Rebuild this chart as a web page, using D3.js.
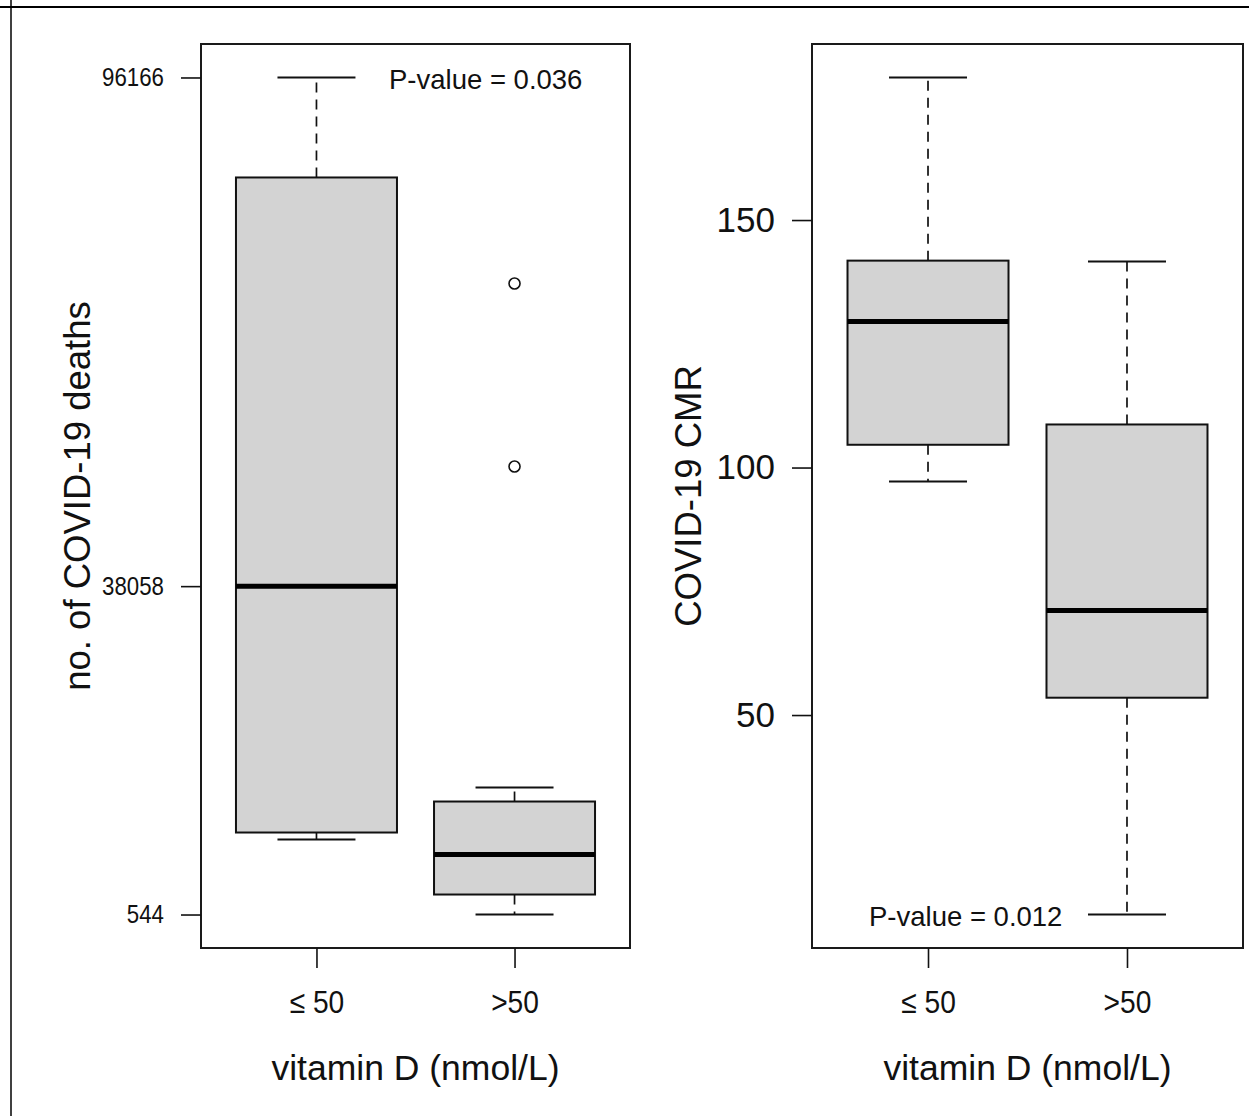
<!DOCTYPE html>
<html>
<head>
<meta charset="utf-8">
<script src="https://cdn.jsdelivr.net/npm/d3@7"></script>
<style>
  html, body { margin: 0; padding: 0; background: #fff; }
  svg { display: block; }
  text { font-family: "Liberation Sans", Arial, sans-serif; fill: #111; }
</style>
</head>
<body>
<svg id="chart" width="1249" height="1116"></svg>
<script>
// ---- data ----
const groups = ["\u2264 50", ">50"];

// Panel 1: number of COVID-19 deaths
const deathsLowerWhisker = [9112, 544];
const deathsQ1 = [9912, 2829];
const deathsMedian = [38058, 7399];
const deathsQ3 = [84743, 13453];
const deathsUpperWhisker = [96166, 15053];
const deathsOutliers = [[], [51726, 72633]];
const deathsTicks = [544, 38058, 96166];

// Panel 2: COVID-19 CMR
const cmrLowerWhisker = [97.2, 9.7];
const cmrQ1 = [104.6, 53.5];
const cmrMedian = [129.5, 71.1];
const cmrQ3 = [141.8, 108.7];
const cmrUpperWhisker = [178.8, 141.6];
const cmrOutliers = [[], []];
const cmrTicks = [50, 100, 150];

const svg = d3.select("#chart");

// page border lines (cropped figure cell)
svg.append("line").attr("x1", 0).attr("x2", 1249).attr("y1", 7).attr("y2", 7)
  .attr("stroke", "#000").attr("stroke-width", 2);
svg.append("line").attr("x1", 11).attr("x2", 11).attr("y1", 0).attr("y2", 1116)
  .attr("stroke", "#000").attr("stroke-width", 1.5);

function condense(sel, factor) {
  sel.each(function() {
    const len = this.getComputedTextLength();
    d3.select(this).attr("textLength", len * factor).attr("lengthAdjust", "spacingAndGlyphs");
  });
}

function drawPanel(cfg) {
  const g = svg.append("g");
  const { left, right, top, bottom } = cfg.frame;

  const allVals = cfg.lw.concat(cfg.uw, cfg.outliers.flat());
  const lo = d3.min(allVals), hi = d3.max(allVals);
  const pad = (hi - lo) * 0.04;
  const y = d3.scaleLinear().domain([lo - pad, hi + pad]).range([bottom, top]);
  const x = d3.scalePoint().domain(groups).range([left, right]).padding(0.583);

  const boxHalf = 80.5, capHalf = 39;

  groups.forEach((grp, i) => {
    const cx = x(grp);
    // whiskers (dashed)
    g.append("line").attr("x1", cx).attr("x2", cx)
      .attr("y1", y(cfg.q3[i])).attr("y2", y(cfg.uw[i]))
      .attr("stroke", "#111").attr("stroke-width", 1.7).attr("stroke-dasharray", "10,7");
    g.append("line").attr("x1", cx).attr("x2", cx)
      .attr("y1", y(cfg.q1[i])).attr("y2", y(cfg.lw[i]))
      .attr("stroke", "#111").attr("stroke-width", 1.7).attr("stroke-dasharray", "10,7");
    // caps
    [cfg.uw[i], cfg.lw[i]].forEach(v => {
      g.append("line").attr("x1", cx - capHalf).attr("x2", cx + capHalf)
        .attr("y1", y(v)).attr("y2", y(v))
        .attr("stroke", "#111").attr("stroke-width", 2);
    });
    // box
    g.append("rect").attr("x", cx - boxHalf).attr("width", boxHalf * 2)
      .attr("y", y(cfg.q3[i])).attr("height", y(cfg.q1[i]) - y(cfg.q3[i]))
      .attr("fill", "#d3d3d3").attr("stroke", "#111").attr("stroke-width", 2);
    // median
    g.append("line").attr("x1", cx - boxHalf).attr("x2", cx + boxHalf)
      .attr("y1", y(cfg.med[i])).attr("y2", y(cfg.med[i]))
      .attr("stroke", "#000").attr("stroke-width", 5);
    // outliers
    cfg.outliers[i].forEach(v => {
      g.append("circle").attr("cx", cx).attr("cy", y(v)).attr("r", 5.5)
        .attr("fill", "#fff").attr("stroke", "#111").attr("stroke-width", 1.6);
    });
  });

  // frame
  g.append("rect").attr("x", left).attr("y", top)
    .attr("width", right - left).attr("height", bottom - top)
    .attr("fill", "none").attr("stroke", "#1a1a1a").attr("stroke-width", 2);

  // y axis
  const yAxis = g.append("g").attr("transform", `translate(${left},0)`)
    .call(d3.axisLeft(y).tickValues(cfg.ticks).tickSize(20).tickPadding(cfg.yTickPad).tickFormat(d3.format("d")));
  yAxis.select(".domain").remove();
  yAxis.selectAll(".tick line").attr("stroke", "#111").attr("stroke-width", 1.6);
  const yt = yAxis.selectAll(".tick text")
    .attr("font-size", cfg.yTickFont + "px").attr("fill", "#111")
    .attr("font-family", "Liberation Sans, Arial, sans-serif");
  if (cfg.yTickCondense) condense(yt, cfg.yTickCondense);

  // x axis
  const xAxis = g.append("g").attr("transform", `translate(0,${bottom})`)
    .call(d3.axisBottom(x).tickSize(20).tickPadding(22));
  xAxis.select(".domain").remove();
  xAxis.selectAll(".tick line").attr("stroke", "#111").attr("stroke-width", 1.6);
  const xt = xAxis.selectAll(".tick text")
    .attr("font-size", "32px").attr("fill", "#111")
    .attr("font-family", "Liberation Sans, Arial, sans-serif");
  condense(xt, 0.88);

  // axis titles
  g.append("text").attr("x", (left + right) / 2).attr("y", 1080)
    .attr("text-anchor", "middle").attr("font-size", "35.5px")
    .text("vitamin D (nmol/L)");
  g.append("text")
    .attr("transform", `translate(${cfg.yTitleX},${(top + bottom) / 2}) rotate(-90)`)
    .attr("text-anchor", "middle").attr("font-size", "36.5px")
    .text(cfg.yTitle);

  // P-value annotation
  g.append("text").attr("x", cfg.pX).attr("y", cfg.pY)
    .attr("font-size", "27.5px").text(cfg.pText);
}

drawPanel({
  frame: { left: 201, right: 630, top: 44, bottom: 948 },
  lw: deathsLowerWhisker, q1: deathsQ1, med: deathsMedian, q3: deathsQ3, uw: deathsUpperWhisker,
  outliers: deathsOutliers, ticks: deathsTicks,
  yTickFont: 25, yTickCondense: 0.89, yTickPad: 17,
  yTitle: "no. of COVID-19 deaths", yTitleX: 90,
  pText: "P-value = 0.036", pX: 389, pY: 89
});

drawPanel({
  frame: { left: 812, right: 1243, top: 44, bottom: 948 },
  lw: cmrLowerWhisker, q1: cmrQ1, med: cmrMedian, q3: cmrQ3, uw: cmrUpperWhisker,
  outliers: cmrOutliers, ticks: cmrTicks,
  yTickFont: 35, yTickCondense: null, yTickPad: 17,
  yTitle: "COVID-19 CMR", yTitleX: 701,
  pText: "P-value = 0.012", pX: 869, pY: 926
});
</script>
</body>
</html>
